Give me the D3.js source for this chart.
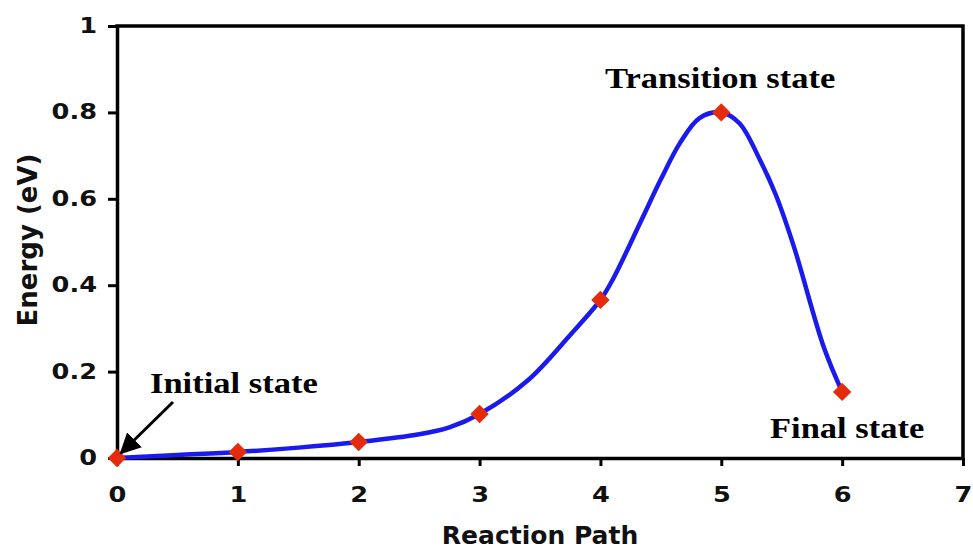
<!DOCTYPE html>
<html>
<head>
<meta charset="utf-8">
<script src="https://cdn.jsdelivr.net/npm/d3@7"></script>
<style>
  html, body { margin: 0; padding: 0; background: #fff; }
  svg { display: block; }
</style>
</head>
<body>
<svg id="chart" width="973" height="550"></svg>
<script>
// Energy profile along the reaction coordinate (eV)
const imageX = [0, 1, 2, 3, 4, 5, 6];
const imageEnergy = [0, 0.014, 0.037, 0.102, 0.366, 0.80, 0.153];

// Finer sampling of the energy path between images
const pathX = [0, 0.5, 1, 1.5, 2, 2.5, 2.75, 3, 3.4, 3.75, 4, 4.1, 4.33, 4.5, 4.66, 4.82, 5, 5.15, 5.32, 5.45, 5.6, 5.85, 6];
const pathEnergy = [0, 0.007, 0.014, 0.024, 0.037, 0.055, 0.071, 0.102, 0.18, 0.285, 0.366, 0.412, 0.545, 0.645, 0.73, 0.787, 0.80, 0.775, 0.69, 0.61, 0.49, 0.255, 0.153];

const xTicks = [0, 1, 2, 3, 4, 5, 6, 7];
const yTicks = [0, 0.2, 0.4, 0.6, 0.8, 1];
const yTickLabels = ["0", "0.2", "0.4", "0.6", "0.8", "1"];

const stateLabels = ["Initial state", "Transition state", "Final state"];
const xTitle = "Reaction Path";
const yTitle = "Energy (eV)";

const W = 973, H = 550;
const margin = { top: 26, right: 10, bottom: 92, left: 117 };
const svg = d3.select("#chart");

const x = d3.scaleLinear().domain([0, 7]).range([margin.left, W - margin.right]);
const y = d3.scaleLinear().domain([0, 1]).range([H - margin.bottom, margin.top]);

const tickFont = "'DejaVu Sans', Verdana, sans-serif";
const serif = "'Liberation Serif', 'Times New Roman', serif";

// stretch text horizontally by a factor using textLength
function stretch(sel, k) {
  sel.each(function () {
    const len = this.getComputedTextLength();
    d3.select(this).attr("textLength", len * k).attr("lengthAdjust", "spacingAndGlyphs");
  });
}

// frame (top and right edges)
svg.append("path")
  .attr("d", `M${x(0)},${y(1)}H${x(7)}V${y(0)}`)
  .attr("fill", "none").attr("stroke", "#000").attr("stroke-width", 3.5)
  .attr("stroke-linecap", "square");

// x axis
const gx = svg.append("g")
  .attr("transform", `translate(0,${y(0)})`)
  .call(d3.axisBottom(x).tickValues(xTicks).tickFormat(d3.format("d")).tickSize(8).tickPadding(21).tickSizeOuter(0));
gx.select(".domain").attr("stroke-width", 3.5);
gx.selectAll(".tick line").attr("stroke-width", 3);
gx.selectAll(".tick text")
  .attr("font-family", tickFont).attr("font-weight", "bold").attr("font-size", 20.5).attr("fill", "#111")
  .call(stretch, 1.25);

// y axis
const gy = svg.append("g")
  .attr("transform", `translate(${x(0)},0)`)
  .call(d3.axisLeft(y).tickValues(yTicks).tickFormat((d, i) => yTickLabels[i]).tickSize(9).tickPadding(11).tickSizeOuter(0));
gy.select(".domain").attr("stroke-width", 3.5);
gy.selectAll(".tick line").attr("stroke-width", 3);
gy.selectAll(".tick text")
  .attr("font-family", tickFont).attr("font-weight", "bold").attr("font-size", 20.5).attr("fill", "#111")
  .call(stretch, 1.25);

// axis titles
svg.append("text")
  .attr("x", (x(0) + x(7)) / 2).attr("y", 544)
  .attr("text-anchor", "middle")
  .attr("font-family", tickFont).attr("font-weight", "bold").attr("font-size", 25).attr("fill", "#111")
  .text(xTitle).call(stretch, 1.0);

svg.append("text")
  .attr("transform", `translate(37,${240}) rotate(-90)`)
  .attr("text-anchor", "middle")
  .attr("font-family", tickFont).attr("font-weight", "bold").attr("font-size", 26).attr("fill", "#111")
  .text(yTitle).call(stretch, 1.0);

// energy curve
const line = d3.line()
  .x((d, i) => x(pathX[i]))
  .y(d => y(d))
  .curve(d3.curveCatmullRom.alpha(0.5));

svg.append("path")
  .datum(pathEnergy)
  .attr("d", line)
  .attr("fill", "none")
  .attr("stroke", "#1a1aee")
  .attr("stroke-width", 4.5)
  .attr("stroke-linejoin", "round");

// image markers (diamonds)
const diamond = d3.symbol().type(d3.symbolSquare).size(169);
svg.append("g").selectAll("path")
  .data(imageEnergy)
  .join("path")
  .attr("d", diamond)
  .attr("transform", (d, i) => `translate(${x(imageX[i])},${y(d)}) rotate(45)`)
  .attr("fill", "#e62b0c");

// state annotations
const ann = svg.append("g")
  .attr("font-family", serif).attr("font-weight", "bold").attr("font-size", 30).attr("fill", "#000");

ann.append("text").attr("x", 150).attr("y", 393).text(stateLabels[0]).call(stretch, 1.15);
ann.append("text").attr("x", 605).attr("y", 88).text(stateLabels[1]).call(stretch, 1.15);
ann.append("text").attr("x", 770).attr("y", 438).text(stateLabels[2]).call(stretch, 1.15);

// arrow pointing at the initial state
const defs = svg.append("defs");
defs.append("marker")
  .attr("id", "arrowhead")
  .attr("viewBox", "0 0 10 10")
  .attr("refX", 9).attr("refY", 5)
  .attr("markerWidth", 7).attr("markerHeight", 7)
  .attr("markerUnits", "strokeWidth")
  .attr("orient", "auto")
  .append("path").attr("d", "M0,0L10,5L0,10Z").attr("fill", "#000");

svg.append("line")
  .attr("x1", 173).attr("y1", 402)
  .attr("x2", x(0) + 4).attr("y2", y(0) - 5)
  .attr("stroke", "#000").attr("stroke-width", 3)
  .attr("marker-end", "url(#arrowhead)");
</script>
</body>
</html>
